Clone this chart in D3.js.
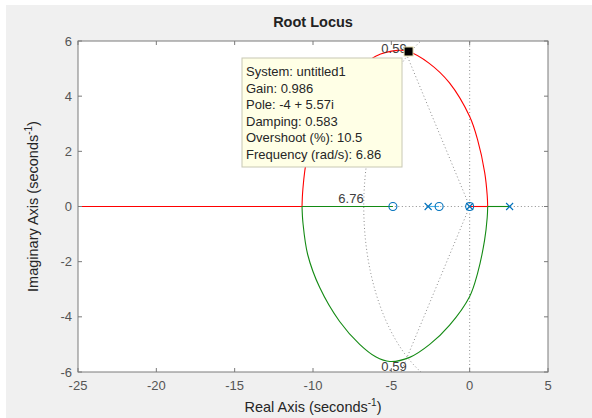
<!DOCTYPE html>
<html><head><meta charset="utf-8">
<script src="https://cdn.jsdelivr.net/npm/d3@7"></script>
<style>
html,body{margin:0;padding:0;background:#fff;}
svg{display:block;font-family:"Liberation Sans",Arial,Helvetica,sans-serif;}
</style></head><body>
<svg id="c" width="592" height="418"></svg>
<script>
// ---- data ----
const xTicks = [-25, -20, -15, -10, -5, 0, 5];
const yTicks = [-6, -4, -2, 0, 2, 4, 6];
const poles = [2.55, -2.65, 0];
const zeros = [-4.9, -1.95, 0];
// branch 1 (red): real axis far left -> breakaway, upper arc, back to axis, to origin
const redAxisLeft = [[-40, 0], [-10.7, 0]];
const redUpper = [[-10.7,0],[-10.65,0.6],[-10.4,1.7],[-9.7,2.9],[-8.4,4.1],[-7.1,4.95],[-6.0,5.45],[-4.6,5.66],[-3.9,5.62],[-2.6,5.2],[-1.3,4.49],[0,3.26],[0.5,2.43],[0.96,1.23],[1.12,0.4],[1.15,0]];
const redAxisRight = [[1.15, 0], [0, 0]];
// branch 2 (green)
const greenAxisLeft = [[-10.7, 0], [-4.9, 0]];
const greenLower = [[-10.7,0],[-10.64,-0.6],[-10.34,-1.74],[-9.57,-2.94],[-8.3,-4.17],[-7.02,-5.0],[-6.0,-5.45],[-5.1,-5.62],[-3.83,-5.47],[-2.55,-5.0],[-1.28,-4.3],[0,-3.26],[0.5,-2.43],[0.95,-1.23],[1.12,-0.4],[1.15,0]];
const greenAxisRight = [[1.15, 0], [2.55, 0]];
// branch 3 (blue): short real-axis segment
const blueAxis = [[-2.65, 0], [-1.95, 0]];
// grid values
const gridDamping = 0.59;
const gridWn = 6.76;
const tipLines = ["System: untitled1","Gain: 0.986","Pole: -4 + 5.57i","Damping: 0.583","Overshoot (%): 10.5","Frequency (rad/s): 6.86"];
const selPole = [-3.9, 5.62];

// ---- drawing ----
const svg = d3.select("#c");
const L = 78, R = 548, T = 41, B = 372;
const x = d3.scaleLinear().domain([-25, 5]).range([L, R]);
const y = d3.scaleLinear().domain([-6, 6]).range([B, T]);

svg.append("rect").attr("x",6).attr("y",5).attr("width",586).attr("height",413).attr("fill","#f0f0f0");
svg.append("rect").attr("x",L).attr("y",T).attr("width",R-L).attr("height",B-T).attr("fill","#fff");

svg.append("defs").append("clipPath").attr("id","clip")
  .append("rect").attr("x",L).attr("y",T).attr("width",R-L).attr("height",B-T);
const g = svg.append("g").attr("clip-path","url(#clip)");

const dotted = sel => sel.attr("fill","none").attr("stroke","#8c8c8c").attr("stroke-width",1).attr("stroke-dasharray","1,2.5");
const line = d3.line().x(d=>x(d[0])).y(d=>y(d[1]));

// grid: axes lines
g.append("path").attr("d", line([[-5,0],[5,0]])).call(dotted);
g.append("path").attr("d", line([[0,-6],[0,6]])).call(dotted);
// damping lines
const th = Math.acos(gridDamping);
[1,-1].forEach(s=>{
  const r = 20;
  g.append("path").attr("d", line([[0,0],[-r*Math.cos(th), s*r*Math.sin(th)]])).call(dotted);
});
// wn circle
const circPts = d3.range(Math.PI/2, 3*Math.PI/2 + 0.001, Math.PI/180).map(a=>[gridWn*Math.cos(a), gridWn*Math.sin(a)]);
g.append("path").attr("d", line(circPts)).call(dotted);

// branches
const smooth = d3.line().x(d=>x(d[0])).y(d=>y(d[1])).curve(d3.curveCatmullRom.alpha(0.5));
const RED = "#ff0000", GREEN = "#138a13", BLUE = "#0072BD";
const br = (pts, col, fn) => g.append("path").attr("d", (fn||line)(pts)).attr("stroke",col).attr("fill","none").attr("stroke-width",1.1);
br(redAxisLeft, RED);
br(redUpper, RED, smooth);
br(redAxisRight, RED);
br(greenAxisLeft, GREEN);
br(greenLower, GREEN, smooth);
br(greenAxisRight, GREEN);
br(blueAxis, "#4db3e6");

// markers
zeros.forEach(z=>{
  g.append("circle").attr("cx",x(z)).attr("cy",y(0)).attr("r",4).attr("fill","none").attr("stroke",BLUE).attr("stroke-width",1.1);
});
poles.forEach(p=>{
  const cx = x(p), cy = y(0), s = 3.5;
  g.append("path").attr("d",`M${cx-s},${cy-s}L${cx+s},${cy+s}M${cx-s},${cy+s}L${cx+s},${cy-s}`).attr("stroke",BLUE).attr("stroke-width",1.1).attr("fill","none");
});

// grid labels
const lab = (t, px, py) => svg.append("text").attr("x",px).attr("y",py).attr("text-anchor","middle")
  .attr("font-size",13).attr("fill","#404040").text(t);
lab(gridDamping.toFixed(2), 394, 53);
lab(gridDamping.toFixed(2), 394, 371);
lab(gridWn.toFixed(2), 351, 203);

// frame + ticks
const frame = svg.append("g");
frame.append("rect").attr("x",L).attr("y",T).attr("width",R-L).attr("height",B-T).attr("fill","none").attr("stroke","#7a7a7a").attr("stroke-width",1);
xTicks.forEach(t=>{
  frame.append("line").attr("x1",x(t)).attr("x2",x(t)).attr("y1",B).attr("y2",B-4).attr("stroke","#7a7a7a");
  frame.append("line").attr("x1",x(t)).attr("x2",x(t)).attr("y1",T).attr("y2",T+4).attr("stroke","#7a7a7a");
  svg.append("text").attr("x",x(t)).attr("y",B+18).attr("text-anchor","middle").attr("font-size",13).attr("fill","#555").text(t);
});
yTicks.forEach(t=>{
  frame.append("line").attr("x1",L).attr("x2",L+4).attr("y1",y(t)).attr("y2",y(t)).attr("stroke","#7a7a7a");
  frame.append("line").attr("x1",R).attr("x2",R-4).attr("y1",y(t)).attr("y2",y(t)).attr("stroke","#7a7a7a");
  svg.append("text").attr("x",L-6).attr("y",y(t)+4.5).attr("text-anchor","end").attr("font-size",13).attr("fill","#555").text(t);
});

// title & axis labels
svg.append("text").attr("x",(L+R)/2).attr("y",27).attr("text-anchor","middle").attr("font-size",14.5).attr("font-weight","bold").attr("fill","#222").text("Root Locus");
const xl = svg.append("text").attr("x",(L+R)/2).attr("y",412).attr("text-anchor","middle").attr("font-size",14.5).attr("fill","#262626");
xl.append("tspan").text("Real Axis (seconds");
xl.append("tspan").attr("dy",-6).attr("font-size",10).text("-1");
xl.append("tspan").attr("dy",6).text(")");
const yl = svg.append("text").attr("transform",`translate(38,${(T+B)/2}) rotate(-90)`).attr("text-anchor","middle").attr("font-size",14.5).attr("fill","#262626");
yl.append("tspan").text("Imaginary Axis (seconds");
yl.append("tspan").attr("dy",-6).attr("font-size",10).text("-1");
yl.append("tspan").attr("dy",6).text(")");

// data tip
const tip = svg.append("g");
tip.append("rect").attr("x",242).attr("y",58).attr("width",160).attr("height",109).attr("fill","#ffffe6").attr("stroke","#c8c8b4").attr("stroke-width",1);
tipLines.forEach((t,i)=>{
  tip.append("text").attr("x",246).attr("y",76+i*16.6).attr("font-size",13).attr("fill","#262626").text(t);
});
svg.append("rect").attr("x",x(selPole[0])-4.5).attr("y",y(selPole[1])-4.5).attr("width",9).attr("height",9).attr("fill","#000").attr("stroke","#e8e0b0").attr("stroke-width",1);
</script>
</body></html>
